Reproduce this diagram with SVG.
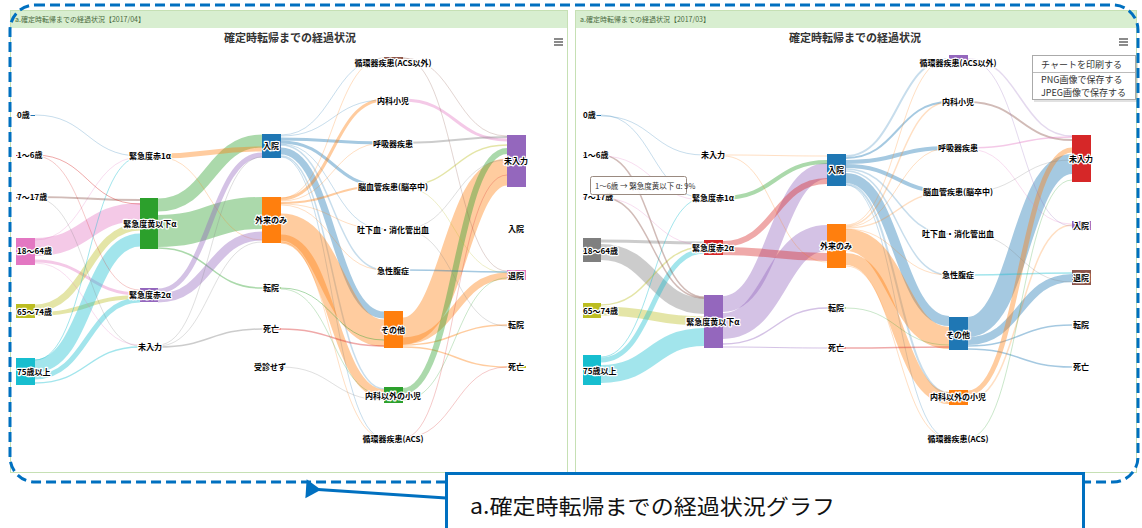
<svg xmlns="http://www.w3.org/2000/svg" width="1142" height="528" viewBox="0 0 1142 528">
<style>
.lbl{font-family:"Noto Sans CJK JP","Noto Sans",sans-serif;font-size:8px;font-weight:bold;fill:#000;stroke:#fff;stroke-width:2.4px;paint-order:stroke;stroke-linejoin:round;text-anchor:middle}
.st{text-anchor:start}
.lk path{fill:none;stroke-opacity:0.4}
.f{stroke-opacity:0.25 !important}
.ttl{font-family:"Noto Sans CJK JP",sans-serif;font-size:11px;font-weight:bold;fill:#333;text-anchor:middle}
.hdr{font-family:"Noto Sans CJK JP",sans-serif;font-size:7px;fill:#4a6a40}
.menu{font-family:"Noto Sans CJK JP",sans-serif;font-size:9px;fill:#333}
.b{stroke:#1f77b4}.o{stroke:#ff7f0e}.g{stroke:#2ca02c}.r{stroke:#d62728}.p{stroke:#9467bd}.br{stroke:#8c564b}.pk{stroke:#e377c2}.gy{stroke:#7f7f7f}.ol{stroke:#bcbd22}.c{stroke:#17becf}
</style>
<defs>
<marker id="ah" markerWidth="8" markerHeight="8" refX="1" refY="4" orient="auto" markerUnits="strokeWidth">
<path d="M0,4 L5,0.8 L5,7.2 Z" fill="#0070c0"/>
</marker>
</defs>
<rect width="1142" height="528" fill="#fff"/>
<!-- panels -->
<g id="panel-left">
<rect x="10.5" y="10.5" width="557" height="462" fill="#fff" stroke="#c6e0b4"/>
<rect x="11" y="11" width="556" height="17" fill="#d8eed0"/>
<text class="hdr" x="15" y="22">a.確定時転帰までの経過状況【2017/04】</text>
<text class="ttl" x="290" y="42">確定時転帰までの経過状況</text>
<path d="M554 39h9M554 42h9M554 45h9" stroke="#666" stroke-width="1.3"/>
</g>
<g id="panel-right">
<rect x="575.5" y="10.5" width="561" height="462" fill="#fff" stroke="#c6e0b4"/>
<rect x="576" y="11" width="560" height="17" fill="#d8eed0"/>
<text class="hdr" x="580" y="22">a.確定時転帰までの経過状況【2017/03】</text>
<text class="ttl" x="855" y="42">確定時転帰までの経過状況</text>
<path d="M1119 39h9M1119 42h9M1119 45h9" stroke="#666" stroke-width="1.3"/>
</g>
<!-- left links -->
<g id="connectors-left" class="lk">
<path class="pk" stroke-width="18" d="M35 247C87.5 247 87.5 212 140 212"/>
<path class="pk" stroke-width="3" d="M35 261C87.5 261 87.5 294 140 294"/>
<path class="pk f" stroke-width="1" d="M35 240C87.5 240 87.5 157 140 157"/>
<path class="ol" stroke-width="7" d="M35 308C87.5 308 87.5 227 140 227"/>
<path class="ol" stroke-width="4" d="M35 314C87.5 314 87.5 297 140 297"/>
<path class="c" stroke-width="13" d="M35 366C87.5 366 87.5 240 140 240"/>
<path class="c" stroke-width="5" d="M35 377C87.5 377 87.5 300 140 300"/>
<path class="c" stroke-width="1.5" d="M35 383C87.5 383 87.5 347 140 347"/>
<path class="c" stroke-width="1" d="M35 360C87.5 360 87.5 157 140 157"/>
<path class="br" stroke-width="2" d="M35 197C87.5 197 87.5 200 140 200"/>
<path class="r" stroke-width="1" d="M35 155C87.5 155 87.5 204 140 204"/>
<path class="b f" stroke-width="1" d="M35 115C87.5 115 87.5 156 140 156"/>
<path class="r f" stroke-width="1" d="M35 156C87.5 156 87.5 290 140 290"/>
<path class="gy f" stroke-width="1" d="M35 198C87.5 198 87.5 346 140 346"/>
<path class="pk f" stroke-width="1" d="M35 263C87.5 263 87.5 345 140 345"/>
<path class="g" stroke-width="13" d="M158 205C210 205 210 141 262 141"/>
<path class="g" stroke-width="32" d="M158 231C210 231 210 213 262 213"/>
<path class="g" stroke-width="1.5" d="M158 248C210 248 210 288 262 288"/>
<path class="o" stroke-width="5" d="M158 156C210 156 210 149 262 149"/>
<path class="o f" stroke-width="1" d="M158 157C210 157 210 240 262 240"/>
<path class="p" stroke-width="5" d="M158 291C210 291 210 155 262 155"/>
<path class="p" stroke-width="9" d="M158 298C210 298 210 236 262 236"/>
<path class="gy" stroke-width="1.5" d="M158 347C210 347 210 329 262 329"/>
<path class="gy f" stroke-width="1" d="M158 346C210 346 210 242 262 242"/>
<path class="gy f" stroke-width="1" d="M158 345C210 345 210 157 262 157"/>
<path class="b f" stroke-width="1" d="M281 135C332.5 135 332.5 58 384 58"/>
<path class="b f" stroke-width="1" d="M281 136C332.5 136 332.5 100 384 100"/>
<path class="b" stroke-width="3" d="M281 139C332.5 139 332.5 143 384 143"/>
<path class="b" stroke-width="3" d="M281 142C332.5 142 332.5 186 384 186"/>
<path class="b f" stroke-width="1" d="M281 144C332.5 144 332.5 229 384 229"/>
<path class="b f" stroke-width="1.5" d="M281 145C332.5 145 332.5 270 384 270"/>
<path class="b" stroke-width="7" d="M281 151C332.5 151 332.5 315 384 315"/>
<path class="b f" stroke-width="1.5" d="M281 156C332.5 156 332.5 389 384 389"/>
<path class="b f" stroke-width="1" d="M281 157C332.5 157 332.5 438 384 438"/>
<path class="o" stroke-width="27" d="M281 227C332.5 227 332.5 333 384 333"/>
<path class="o" stroke-width="9" d="M281 239C332.5 239 332.5 394 384 394"/>
<path class="o" stroke-width="3" d="M281 199C332.5 199 332.5 100 384 100"/>
<path class="o f" stroke-width="1" d="M281 201C332.5 201 332.5 143 384 143"/>
<path class="o" stroke-width="2" d="M281 203C332.5 203 332.5 186 384 186"/>
<path class="o f" stroke-width="1" d="M281 204C332.5 204 332.5 229 384 229"/>
<path class="o f" stroke-width="1" d="M281 205C332.5 205 332.5 270 384 270"/>
<path class="o f" stroke-width="1" d="M281 242C332.5 242 332.5 438 384 438"/>
<path class="o f" stroke-width="1" d="M281 198C332.5 198 332.5 58 384 58"/>
<path class="g" stroke-width="1" d="M281 288C332.5 288 332.5 340 384 340"/>
<path class="g f" stroke-width="1" d="M281 289C332.5 289 332.5 395 384 395"/>
<path class="r" stroke-width="1.5" d="M281 329C332.5 329 332.5 346 384 346"/>
<path class="gy f" stroke-width="1" d="M281 367C332.5 367 332.5 400 384 400"/>
<path class="o" stroke-width="27" d="M403 331C455 331 455 172 507 172"/>
<path class="o" stroke-width="7" d="M403 341C455 341 455 276 507 276"/>
<path class="o" stroke-width="1.5" d="M403 345C455 345 455 325 507 325"/>
<path class="o" stroke-width="1.5" d="M403 347C455 347 455 367 507 367"/>
<path class="g" stroke-width="6" d="M403 391C455 391 455 151 507 151"/>
<path class="g f" stroke-width="1" d="M403 400C455 400 455 278 507 278"/>
<path class="pk" stroke-width="3" d="M403 100C455 100 455 140 507 140"/>
<path class="gy" stroke-width="2" d="M403 143C455 143 455 137 507 137"/>
<path class="ol" stroke-width="1.5" d="M403 186C455 186 455 145 507 145"/>
<path class="ol f" stroke-width="1" d="M403 187C455 187 455 273 507 273"/>
<path class="b" stroke-width="1.5" d="M403 270C455 270 455 272 507 272"/>
<path class="br f" stroke-width="1" d="M403 58C455 58 455 136 507 136"/>
<path class="br f" stroke-width="1" d="M403 58C455 58 455 271 507 271"/>
<path class="r f" stroke-width="1" d="M403 438C455 438 455 367 507 367"/>
<path class="r f" stroke-width="1" d="M403 438C455 438 455 175 507 175"/>
<path class="gy f" stroke-width="1" d="M403 229C455 229 455 160 507 160"/>
<path class="gy f" stroke-width="1" d="M403 230C455 230 455 326 507 326"/>
</g>
<!-- right links -->
<g id="connectors-right" class="lk">
<path class="gy" stroke-width="16" d="M601 252C652.5 252 652.5 306 704 306"/>
<path class="gy" stroke-width="3" d="M601 241C652.5 241 652.5 243 704 243"/>
<path class="ol" stroke-width="9" d="M601 311C652.5 311 652.5 321 704 321"/>
<path class="ol" stroke-width="1.5" d="M601 305C652.5 305 652.5 247 704 247"/>
<path class="c" stroke-width="18" d="M601 374C652.5 374 652.5 337 704 337"/>
<path class="c" stroke-width="5" d="M601 360C652.5 360 652.5 251 704 251"/>
<path class="c" stroke-width="1" d="M601 357C652.5 357 652.5 198 704 198"/>
<path class="br" stroke-width="1.5" stroke-opacity="0.6" d="M601 197C652.5 197 652.5 298 704 298"/>
<path class="br" stroke-width="1.5" stroke-opacity="0.6" d="M601 155C652.5 155 652.5 297 704 297"/>
<path class="pk f" stroke-width="1" d="M601 156C652.5 156 652.5 200 704 200"/>
<path class="b f" stroke-width="1" d="M601 115C652.5 115 652.5 198 704 198"/>
<path class="b f" stroke-width="1" d="M601 116C652.5 116 652.5 155 704 155"/>
<path class="pk f" stroke-width="1" d="M601 198C652.5 198 652.5 245 704 245"/>
<path class="p" stroke-width="16" d="M723 304C775 304 775 171 827 171"/>
<path class="p" stroke-width="26" d="M723 326C775 326 775 238 827 238"/>
<path class="p" stroke-width="1.5" d="M723 344C775 344 775 308 827 308"/>
<path class="p" stroke-width="1" d="M723 347C775 347 775 348 827 348"/>
<path class="r" stroke-width="6" d="M723 244C775 244 775 181 827 181"/>
<path class="r" stroke-width="8" d="M723 251C775 251 775 257 827 257"/>
<path class="g" stroke-width="4" d="M723 198C775 198 775 162 827 162"/>
<path class="o f" stroke-width="1" d="M723 155C775 155 775 156 827 156"/>
<path class="o f" stroke-width="1" d="M723 156C775 156 775 262 827 262"/>
<path class="b f" stroke-width="2" d="M846 156C897.5 156 897.5 59 949 59"/>
<path class="b" stroke-width="2" d="M846 158C897.5 158 897.5 102 949 102"/>
<path class="b" stroke-width="4" d="M846 162C897.5 162 897.5 148 949 148"/>
<path class="b" stroke-width="4" d="M846 166C897.5 166 897.5 192 949 192"/>
<path class="b f" stroke-width="1.5" d="M846 169C897.5 169 897.5 234 949 234"/>
<path class="b f" stroke-width="1.5" d="M846 171C897.5 171 897.5 275 949 275"/>
<path class="b" stroke-width="10" d="M846 178C897.5 178 897.5 321 949 321"/>
<path class="b f" stroke-width="2" d="M846 184C897.5 184 897.5 393 949 393"/>
<path class="b f" stroke-width="1" d="M846 185C897.5 185 897.5 438 949 438"/>
<path class="o" stroke-width="22" d="M846 240C897.5 240 897.5 338 949 338"/>
<path class="o" stroke-width="12" d="M846 259C897.5 259 897.5 398 949 398"/>
<path class="o f" stroke-width="1.5" d="M846 226C897.5 226 897.5 102 949 102"/>
<path class="o f" stroke-width="1" d="M846 227C897.5 227 897.5 148 949 148"/>
<path class="o f" stroke-width="1.5" d="M846 228C897.5 228 897.5 192 949 192"/>
<path class="o f" stroke-width="1" d="M846 229C897.5 229 897.5 275 949 275"/>
<path class="o f" stroke-width="1" d="M846 266C897.5 266 897.5 438 949 438"/>
<path class="o f" stroke-width="1" d="M846 225C897.5 225 897.5 59 949 59"/>
<path class="r" stroke-width="1.5" d="M846 348C897.5 348 897.5 347 949 347"/>
<path class="g f" stroke-width="1" d="M846 308C897.5 308 897.5 345 949 345"/>
<path class="b" stroke-width="20" d="M968 327C1020 327 1020 164 1072 164"/>
<path class="b" stroke-width="8" d="M968 341C1020 341 1020 278 1072 278"/>
<path class="b" stroke-width="1.5" d="M968 346C1020 346 1020 325 1072 325"/>
<path class="b" stroke-width="1.5" d="M968 349C1020 349 1020 367 1072 367"/>
<path class="o" stroke-width="5" d="M968 393C1020 393 1020 150 1072 150"/>
<path class="o f" stroke-width="1.5" d="M968 400C1020 400 1020 225 1072 225"/>
<path class="c" stroke-width="1.5" d="M968 275C1020 275 1020 273 1072 273"/>
<path class="br" stroke-width="2" d="M968 102C1020 102 1020 140 1072 140"/>
<path class="pk" stroke-width="1.5" d="M968 148C1020 148 1020 137 1072 137"/>
<path class="pk f" stroke-width="1" d="M968 149C1020 149 1020 224 1072 224"/>
<path class="p f" stroke-width="1.5" d="M968 59C1020 59 1020 136 1072 136"/>
<path class="p f" stroke-width="1" d="M968 60C1020 60 1020 226 1072 226"/>
<path class="gy f" stroke-width="1" d="M968 192C1020 192 1020 160 1072 160"/>
<path class="gy f" stroke-width="1" d="M968 234C1020 234 1020 282 1072 282"/>
<path class="g f" stroke-width="1" d="M968 438C1020 438 1020 180 1072 180"/>
</g>
<!-- left nodes -->
<g id="L-age0"><rect x="16" y="115" width="19" height="1" fill="#1f77b4"/><text class="lbl st" x="17" y="118">0歳</text></g>
<g id="L-age1-6"><rect x="16" y="155" width="19" height="1" fill="#d62728"/><text class="lbl st" x="17" y="158">1～6歳</text></g>
<g id="L-age7-17"><rect x="16" y="197" width="19" height="1.5" fill="#8c564b"/><text class="lbl st" x="17" y="200">7～17歳</text></g>
<g id="L-age18-64"><rect x="16" y="238" width="19" height="27" fill="#e377c2"/><text class="lbl st" x="17" y="254">18～64歳</text></g>
<g id="L-age65-74"><rect x="16" y="304" width="19" height="14" fill="#bcbd22"/><text class="lbl st" x="17" y="315">65～74歳</text></g>
<g id="L-age75"><rect x="16" y="358" width="19" height="27" fill="#17becf"/><text class="lbl st" x="17" y="375">75歳以上</text></g>
<g id="L-red1"><rect x="140" y="155.5" width="18" height="1" fill="#ff7f0e"/><text class="lbl" x="150" y="159">緊急度赤1α</text></g>
<g id="L-yellow"><rect x="140" y="198" width="18" height="51" fill="#2ca02c"/><text class="lbl" x="150" y="227">緊急度黄以下α</text></g>
<g id="L-red2"><rect x="140" y="288" width="18" height="14" fill="#9467bd"/><text class="lbl" x="150" y="298">緊急度赤2α</text></g>
<g id="L-noinput1"><rect x="140" y="346.5" width="18" height="1" fill="#7f7f7f"/><text class="lbl" x="150" y="350">未入力</text></g>
<g id="L-admit"><rect x="262" y="134" width="19" height="24" fill="#1f77b4"/><text class="lbl" x="271" y="149">入院</text></g>
<g id="L-outpatient"><rect x="262" y="197" width="19" height="46" fill="#ff7f0e"/><text class="lbl" x="271" y="223">外来のみ</text></g>
<g id="L-transfer"><rect x="262" y="287.5" width="19" height="1" fill="#2ca02c"/><text class="lbl" x="271" y="291">転院</text></g>
<g id="L-death"><rect x="262" y="328.5" width="19" height="1" fill="#d62728"/><text class="lbl" x="271" y="332">死亡</text></g>
<g id="L-nonvisit"><text class="lbl" x="270" y="370">受診せず</text></g>
<g id="L-acsother"><rect x="384" y="57" width="19" height="2" fill="#8c564b"/><text class="lbl" x="393" y="66">循環器疾患(ACS以外)</text></g>
<g id="L-pedmed"><text class="lbl" x="393" y="104">内科小児</text></g>
<g id="L-resp"><text class="lbl" x="393" y="147">呼吸器疾患</text></g>
<g id="L-stroke"><text class="lbl" x="393" y="190">脳血管疾患(脳卒中)</text></g>
<g id="L-gi"><text class="lbl" x="393" y="233">吐下血・消化管出血</text></g>
<g id="L-abd"><text class="lbl" x="393" y="274">急性腹症</text></g>
<g id="L-other"><rect x="384" y="311" width="19" height="37" fill="#ff7f0e"/><text class="lbl" x="393" y="333">その他</text></g>
<g id="L-pedother"><rect x="384" y="387" width="19" height="16" fill="#2ca02c"/><text class="lbl" x="393" y="399">内科以外の小児</text></g>
<g id="L-acs"><rect x="384" y="439" width="19" height="2" fill="#d62728"/><text class="lbl" x="393" y="442">循環器疾患(ACS)</text></g>
<g id="L-noinput2"><rect x="507" y="135" width="19" height="52" fill="#9467bd"/><text class="lbl" x="516" y="164">未入力</text></g>
<g id="L-admit2"><text class="lbl" x="516" y="232">入院</text></g>
<g id="L-discharge"><rect x="507" y="270" width="19" height="10" fill="#e377c2"/><text class="lbl" x="516" y="279">退院</text></g>
<g id="L-transfer2"><text class="lbl" x="516" y="328">転院</text></g>
<g id="L-death2"><rect x="507" y="366" width="19" height="2" fill="#bcbd22"/><text class="lbl" x="516" y="370">死亡</text></g>
<!-- right nodes -->
<g id="R-age0"><rect x="583" y="115" width="18" height="1" fill="#1f77b4"/><text class="lbl st" x="583" y="118">0歳</text></g>
<g id="R-age1-6"><rect x="583" y="155" width="18" height="1.5" fill="#8c564b"/><text class="lbl st" x="583" y="158">1～6歳</text></g>
<g id="R-age7-17"><rect x="583" y="197" width="18" height="1.5" fill="#e377c2"/><text class="lbl st" x="583" y="200">7～17歳</text></g>
<g id="R-age18-64"><rect x="583" y="238" width="18" height="24" fill="#7f7f7f"/><text class="lbl st" x="583" y="254">18～64歳</text></g>
<g id="R-age65-74"><rect x="583" y="303" width="18" height="15" fill="#bcbd22"/><text class="lbl st" x="583" y="314">65～74歳</text></g>
<g id="R-age75"><rect x="583" y="355" width="18" height="30" fill="#17becf"/><text class="lbl st" x="583" y="374">75歳以上</text></g>
<g id="R-noinput1"><rect x="704" y="154.5" width="19" height="1" fill="#ff7f0e"/><text class="lbl" x="713" y="158">未入力</text></g>
<g id="R-red1"><rect x="704" y="197.5" width="19" height="1" fill="#2ca02c"/><text class="lbl" x="713" y="201">緊急度赤1α</text></g>
<g id="R-red2"><rect x="704" y="240" width="19" height="15" fill="#d62728"/><text class="lbl" x="713" y="251">緊急度赤2α</text></g>
<g id="R-yellow"><rect x="704" y="295" width="19" height="53" fill="#9467bd"/><text class="lbl" x="713" y="325">緊急度黄以下α</text></g>
<g id="R-admit"><rect x="827" y="154" width="19" height="32" fill="#1f77b4"/><text class="lbl" x="836" y="173">入院</text></g>
<g id="R-outpatient"><rect x="827" y="224" width="19" height="44" fill="#ff7f0e"/><text class="lbl" x="836" y="249">外来のみ</text></g>
<g id="R-transfer"><rect x="827" y="307.5" width="19" height="1" fill="#2ca02c"/><text class="lbl" x="836" y="311">転院</text></g>
<g id="R-death"><rect x="827" y="347.5" width="19" height="1" fill="#d62728"/><text class="lbl" x="836" y="351">死亡</text></g>
<g id="R-acsother"><rect x="949" y="55" width="19" height="6" fill="#9467bd"/><text class="lbl" x="958" y="66">循環器疾患(ACS以外)</text></g>
<g id="R-pedmed"><text class="lbl" x="958" y="105">内科小児</text></g>
<g id="R-resp"><text class="lbl" x="958" y="151">呼吸器疾患</text></g>
<g id="R-stroke"><text class="lbl" x="958" y="195">脳血管疾患(脳卒中)</text></g>
<g id="R-gi"><text class="lbl" x="958" y="237">吐下血・消化管出血</text></g>
<g id="R-abd"><text class="lbl" x="958" y="278">急性腹症</text></g>
<g id="R-other"><rect x="949" y="317" width="19" height="33" fill="#1f77b4"/><text class="lbl" x="958" y="338">その他</text></g>
<g id="R-pedother"><rect x="949" y="390" width="19" height="15" fill="#ff7f0e"/><text class="lbl" x="958" y="400">内科以外の小児</text></g>
<g id="R-acs"><rect x="949" y="439" width="19" height="2" fill="#2ca02c"/><text class="lbl" x="958" y="442">循環器疾患(ACS)</text></g>
<g id="R-noinput2"><rect x="1072" y="135" width="19" height="47" fill="#d62728"/><text class="lbl" x="1081" y="162">未入力</text></g>
<g id="R-admit2"><rect x="1072" y="221" width="19" height="9" fill="#9467bd"/><text class="lbl" x="1081" y="229">入院</text></g>
<g id="R-discharge"><rect x="1072" y="270" width="19" height="15" fill="#8c564b"/><text class="lbl" x="1081" y="281">退院</text></g>
<g id="R-transfer2"><text class="lbl" x="1081" y="328">転院</text></g>
<g id="R-death2"><text class="lbl" x="1081" y="370">死亡</text></g>
<!-- tooltip -->
<g id="tooltip">
<rect x="590.5" y="176.5" width="96" height="18" rx="2" fill="#fff" fill-opacity="0.92" stroke="#9a8a80"/>
<text x="595" y="188.5" font-family="Noto Sans CJK JP,sans-serif" font-size="7.5" fill="#333">1～6歳 → 緊急度黄以下 α: 9%</text>
</g>
<!-- export menu -->
<g id="export-menu">
<rect x="1034" y="57" width="104" height="45" fill="#888" fill-opacity="0.25"/>
<rect x="1032.5" y="55.5" width="103" height="44" fill="#fff" stroke="#aaa"/>
<line x1="1033" y1="72.5" x2="1135" y2="72.5" stroke="#bbb"/>
<text class="menu" x="1041" y="68">チャートを印刷する</text>
<text class="menu" x="1041" y="83">PNG画像で保存する</text>
<text class="menu" x="1041" y="96">JPEG画像で保存する</text>
</g>
<!-- dashed frame -->
<rect id="frame" x="10" y="5" width="1128" height="477" rx="25" fill="none" stroke="#0070c0" stroke-width="3" stroke-dasharray="10 5"/>
<!-- callout -->
<g id="callout">
<line x1="446" y1="498" x2="318" y2="489.5" stroke="#0070c0" stroke-width="3" marker-end="url(#ah)"/>
<rect x="446.5" y="473.5" width="637" height="60" fill="#fff" stroke="#0070c0" stroke-width="3"/>
<text x="470" y="514" font-family="Noto Sans CJK JP,sans-serif" font-size="21" fill="#111" textLength="365" lengthAdjust="spacingAndGlyphs">a.確定時転帰までの経過状況グラフ</text>
</g>
</svg>
